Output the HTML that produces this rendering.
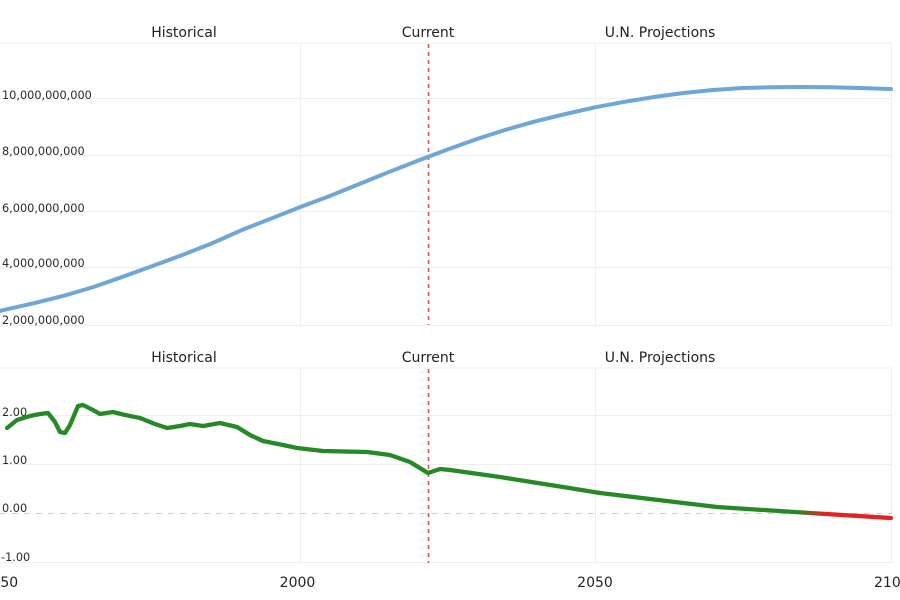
<!DOCTYPE html>
<html><head><meta charset="utf-8"><style>
html,body{margin:0;padding:0;background:#fff;}
svg{display:block;}
text{font-family:"DejaVu Sans","Liberation Sans",sans-serif;}
</style></head><body>
<svg width="900" height="600" viewBox="0 0 900 600" xmlns="http://www.w3.org/2000/svg">
<defs>
<linearGradient id="gr" gradientUnits="userSpaceOnUse" x1="0" y1="0" x2="900" y2="0">
<stop offset="0" stop-color="#258a25"/>
<stop offset="0.885" stop-color="#258a25"/>
<stop offset="0.915" stop-color="#e02424"/>
<stop offset="1" stop-color="#e02424"/>
</linearGradient>
</defs>
<rect width="900" height="600" fill="#fff"/>
<!-- top chart grid -->
<g stroke="#efefef" stroke-width="1" fill="none">
<line x1="0" y1="43" x2="892" y2="43"/>
<line x1="0" y1="98.5" x2="892" y2="98.5"/>
<line x1="0" y1="155.5" x2="892" y2="155.5"/>
<line x1="0" y1="211.5" x2="892" y2="211.5"/>
<line x1="0" y1="267.5" x2="892" y2="267.5"/>
<line x1="0" y1="325.5" x2="892" y2="325.5"/>
<line x1="300.5" y1="43" x2="300.5" y2="325"/>
<line x1="595.5" y1="43" x2="595.5" y2="325"/>
<line x1="891.5" y1="43" x2="891.5" y2="325"/>
</g>
<g font-size="14" fill="#222" text-anchor="middle">
<text x="184" y="37">Historical</text>
<text x="428" y="37">Current</text>
<text x="660" y="37">U.N. Projections</text>
<text x="184" y="362">Historical</text>
<text x="428" y="362">Current</text>
<text x="660" y="362">U.N. Projections</text>
</g>
<g font-size="11.3" fill="#2a2a2a">
<text x="2" y="99">10,000,000,000</text>
<text x="2" y="155">8,000,000,000</text>
<text x="2" y="212">6,000,000,000</text>
<text x="2" y="267">4,000,000,000</text>
<text x="2" y="324">2,000,000,000</text>
</g>
<line x1="428.5" y1="44" x2="428.5" y2="325" stroke="#d9534f" stroke-width="1.6" stroke-dasharray="4,4"/>
<polyline fill="none" stroke="#6fa6d8" stroke-width="4" stroke-linejoin="round" stroke-linecap="round"
points="0,311 5,309.7 34.5,303.1 64,295.7 93.5,287 123,276.7 152.5,266 182,255.1 211.5,243.5 241,230.4 270.5,218.8 300,207.1 329.5,196.1 359,184.1 388.5,172.2 418,160.6 447.5,149.5 477,139 506.5,129.5 536,121.2 565.5,114 595,107.3 624.5,101.8 654,97 683.5,93 713,90 742.5,88 772,87.2 801.5,87 831,87.3 860.5,88 891,89"/>
<!-- bottom chart grid -->
<g stroke="#efefef" stroke-width="1" fill="none">
<line x1="0" y1="368" x2="892" y2="368"/>
<line x1="0" y1="415.5" x2="892" y2="415.5"/>
<line x1="0" y1="464.5" x2="892" y2="464.5"/>
<line x1="0" y1="562.5" x2="892" y2="562.5"/>
<line x1="300.5" y1="368" x2="300.5" y2="563"/>
<line x1="595.5" y1="368" x2="595.5" y2="563"/>
<line x1="891.5" y1="368" x2="891.5" y2="563"/>
</g>
<line x1="0" y1="513.5" x2="892" y2="513.5" stroke="#cfcfcf" stroke-width="1" stroke-dasharray="6,6"/>
<g font-size="11.3" fill="#2a2a2a">
<text x="2" y="416">2.00</text>
<text x="2" y="464">1.00</text>
<text x="2" y="512">0.00</text>
<text x="1" y="561">-1.00</text>
</g>
<line x1="428.5" y1="369" x2="428.5" y2="563" stroke="#d9534f" stroke-width="1.6" stroke-dasharray="4,4"/>
<polyline fill="none" stroke="url(#gr)" stroke-width="4.3" stroke-linejoin="round" stroke-linecap="round"
points="7,428 17,420 30,416 40,414 48,413 55,422 60,432 65,433 70,425 78,406 83,405 93,410 100,414 113,412 125,415 140,418 145,420 155,424 167,428 180,426 190,424 203,426 220,423 237,427 250,435 263,441 283,445 297,448 323,451 367,452 390,455 410,462 428,473 440,469 450,470 500,477 563,487 600,493 650,499 717,507 810,513 891,518"/>
<g font-size="14" fill="#222">
<text x="-17.5" y="587">1950</text>
<text x="297.5" y="587" text-anchor="middle">2000</text>
<text x="595" y="587" text-anchor="middle">2050</text>
<text x="874" y="587">2100</text>
</g>
</svg>
</body></html>
